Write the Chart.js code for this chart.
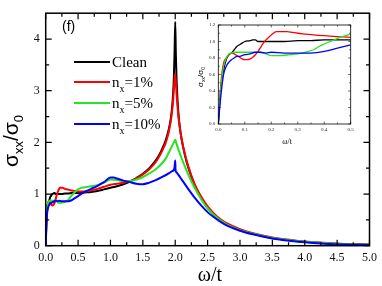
<!DOCTYPE html>
<html lang="en">
<head>
  <meta charset="UTF-8">
  <title>Optical conductivity</title>
  <script src="https://cdn.jsdelivr.net/npm/chart.js"></script>
  <style>
    body { margin: 0; background: #fff; }
    #wrap { position: relative; width: 382px; height: 286px; }
    #mainChart { position: absolute; left: 0; top: 0; }
    #insetChart { position: absolute; left: 190px; top: 15px; }
  </style>
</head>
<body>
  <div id="wrap">
    <canvas id="mainChart" width="382" height="286"></canvas>
    <canvas id="insetChart" width="180" height="135"></canvas>
  </div>

  <script>
    // ---- data (omega/t, sigma_xx/sigma_0) ----
    const cleanW = [0,0.005,0.01,0.02,0.03,0.04,0.05,0.06,0.07,0.08,0.09,0.1,0.12,0.13,0.14,0.15,0.17,0.2,0.25,0.3,0.35,0.4,0.45,0.5,0.6,0.7,0.8,0.9,1.0,1.1,1.2,1.3,1.4,1.5,1.6,1.7,1.75,1.8,1.85,1.9,1.93,1.95,1.97,1.98,1.99,2.0,2.01,2.02,2.03,2.05,2.07,2.1,2.15,2.2,2.3,2.4,2.5,2.6,2.7,2.8,3.0,3.2,3.5,3.8,4.0,4.3,4.6,5.0];
    const cleanS = [0,0.25,0.45,0.65,0.78,0.84,0.86,0.9,0.94,0.96,0.98,1.0,1.01,1.02,1.02,1.0,1.0,1.0,1.0,1.01,1.01,1.02,1.02,1.02,1.03,1.04,1.06,1.09,1.12,1.15,1.19,1.24,1.31,1.39,1.5,1.65,1.75,1.88,2.03,2.25,2.45,2.65,3.0,3.3,3.75,4.33,3.7,3.25,2.95,2.55,2.3,2.05,1.75,1.52,1.17,0.93,0.74,0.6,0.5,0.42,0.31,0.23,0.15,0.1,0.075,0.05,0.03,0.02];

    const n1W = [0,0.01,0.02,0.03,0.04,0.05,0.06,0.07,0.08,0.09,0.1,0.11,0.12,0.13,0.14,0.15,0.16,0.17,0.18,0.19,0.2,0.22,0.24,0.26,0.28,0.3,0.33,0.36,0.4,0.45,0.5,0.6,0.7,0.8,0.9,1.0,1.1,1.2,1.3,1.4,1.5,1.6,1.7,1.75,1.8,1.85,1.9,1.93,1.95,1.97,1.98,1.99,2.0,2.01,2.02,2.03,2.05,2.07,2.1,2.15,2.2,2.3,2.4,2.5,2.6,2.7,2.8,3.0,3.2,3.5,3.8,4.0,4.3,4.6,5.0];
    const n1S = [0,0.5,0.74,0.8,0.84,0.86,0.85,0.83,0.81,0.79,0.78,0.78,0.79,0.81,0.84,0.88,0.93,0.98,1.02,1.05,1.08,1.12,1.12,1.12,1.11,1.1,1.09,1.08,1.07,1.06,1.05,1.05,1.07,1.1,1.14,1.18,1.2,1.22,1.25,1.3,1.38,1.48,1.62,1.72,1.84,1.98,2.2,2.4,2.58,2.85,3.05,3.22,3.33,3.15,2.95,2.78,2.5,2.3,2.06,1.77,1.54,1.19,0.95,0.76,0.62,0.51,0.43,0.32,0.24,0.16,0.11,0.08,0.055,0.035,0.025];

    const n5W = [0,0.01,0.02,0.03,0.04,0.05,0.06,0.08,0.1,0.12,0.15,0.18,0.2,0.23,0.27,0.3,0.33,0.36,0.38,0.4,0.43,0.46,0.5,0.55,0.6,0.7,0.8,0.9,1.0,1.1,1.2,1.3,1.4,1.5,1.6,1.7,1.8,1.85,1.9,1.95,1.98,2.0,2.02,2.05,2.1,2.15,2.2,2.3,2.4,2.5,2.6,2.7,2.8,3.0,3.2,3.5,3.8,4.0,4.3,4.6,5.0];
    const n5S = [0,0.45,0.7,0.8,0.85,0.86,0.87,0.87,0.87,0.87,0.87,0.85,0.83,0.83,0.84,0.85,0.87,0.9,0.94,0.97,1.01,1.05,1.09,1.12,1.13,1.15,1.17,1.22,1.28,1.27,1.25,1.25,1.28,1.33,1.4,1.48,1.6,1.68,1.8,1.93,2.0,2.05,1.97,1.86,1.69,1.53,1.38,1.12,0.9,0.72,0.59,0.49,0.41,0.3,0.23,0.15,0.1,0.075,0.05,0.03,0.02];

    const n10W = [0,0.01,0.02,0.03,0.04,0.05,0.06,0.07,0.08,0.1,0.12,0.14,0.16,0.18,0.2,0.25,0.3,0.35,0.4,0.45,0.5,0.6,0.7,0.8,0.9,1.0,1.05,1.1,1.2,1.3,1.4,1.5,1.6,1.7,1.8,1.9,1.95,1.98,1.99,2.0,2.005,2.02,2.05,2.1,2.2,2.3,2.4,2.5,2.6,2.7,2.8,3.0,3.2,3.5,3.8,4.0,4.3,4.6,5.0];
    const n10S = [0,0.35,0.6,0.7,0.75,0.78,0.8,0.82,0.82,0.84,0.85,0.87,0.87,0.86,0.87,0.86,0.86,0.86,0.88,0.92,0.96,1.04,1.1,1.16,1.23,1.32,1.32,1.3,1.26,1.23,1.2,1.19,1.22,1.27,1.33,1.4,1.44,1.47,1.52,1.65,1.46,1.42,1.37,1.28,1.1,0.93,0.78,0.65,0.55,0.46,0.39,0.29,0.22,0.14,0.09,0.065,0.04,0.025,0.015];

    const seriesLabels = ['Clean', '1%', '5%', '10%'];
    const seriesColors = ['#000000', '#ff0000', '#22e622', '#0000ff'];

    // tick values
    const mainXMajor = [0,0.5,1,1.5,2,2.5,3,3.5,4,4.5,5];
    const mainXMinor = [0.25,0.75,1.25,1.75,2.25,2.75,3.25,3.75,4.25,4.75];
    const mainYMajor = [0,1,2,3,4];
    const mainYMinor = [0.5,1.5,2.5,3.5];
    const insetXMajor = [0,0.1,0.2,0.3,0.4,0.5];
    const insetXMinor = [0.05,0.15,0.25,0.35,0.45];
    const insetYMajor = [0,0.2,0.4,0.6,0.8,1.0,1.2];
    const insetYMinor = [0.1,0.3,0.5,0.7,0.9,1.1];

    const toPoints = (w, s) => w.map((v, i) => ({ x: v, y: s[i] }));
    const allSeries = [
      toPoints(cleanW, cleanS),
      toPoints(n1W, n1S),
      toPoints(n5W, n5S),
      toPoints(n10W, n10S)
    ];

    // build datasets, blue last in legend but drawn on top
    const makeDatasets = (width) => [3, 2, 1, 0].map(i => ({
      label: seriesLabels[i],
      data: allSeries[i],
      borderColor: seriesColors[i],
      borderWidth: width,
      pointRadius: 0,
      cubicInterpolationMode: 'monotone',
      fill: false
    }));

    // text with sub-parts: [{t, size, dy}]
    const drawParts = (ctx, parts, family, x, y, align) => {
      let total = 0;
      parts.forEach(p => { ctx.font = p.size + 'px ' + family; p.w = ctx.measureText(p.t).width; total += p.w; });
      let cx = align === 'center' ? x - total / 2 : x;
      ctx.textAlign = 'left';
      ctx.textBaseline = 'alphabetic';
      parts.forEach(p => {
        ctx.font = p.size + 'px ' + family;
        ctx.fillText(p.t, cx, y + (p.dy || 0));
        cx += p.w;
      });
    };

    // box frame with inward ticks on all four sides
    const makeFrame = (cfg) => ({
      id: 'frame',
      afterDatasetsDraw(chart) {
        const { ctx, chartArea: a, scales: { x, y } } = chart;
        ctx.save();
        ctx.strokeStyle = '#000';
        ctx.lineWidth = cfg.lw;
        ctx.strokeRect(a.left, a.top, a.right - a.left, a.bottom - a.top);
        ctx.lineWidth = cfg.tw;
        const xt = (vals, len) => vals.forEach(v => {
          const px = x.getPixelForValue(v);
          ctx.beginPath();
          ctx.moveTo(px, a.bottom); ctx.lineTo(px, a.bottom - len);
          ctx.moveTo(px, a.top); ctx.lineTo(px, a.top + len);
          ctx.stroke();
        });
        const yt = (vals, len) => vals.forEach(v => {
          const py = y.getPixelForValue(v);
          ctx.beginPath();
          ctx.moveTo(a.left, py); ctx.lineTo(a.left + len, py);
          ctx.moveTo(a.right, py); ctx.lineTo(a.right - len, py);
          ctx.stroke();
        });
        xt(cfg.xMajor, cfg.major); xt(cfg.xMinor, cfg.minor);
        yt(cfg.yMajor, cfg.major); yt(cfg.yMinor, cfg.minor);
        ctx.restore();
      }
    });

    const fixTicks = (vals) => (scale) => { scale.ticks = vals.map(v => ({ value: v })); };

    // ---- main chart ----
    const mainLabels = {
      id: 'mainLabels',
      afterDraw(chart) {
        const ctx = chart.ctx;
        ctx.save();
        ctx.fillStyle = '#000';
        // axis titles
        drawParts(ctx, [{ t: 'ω/t', size: 20 }], '"Liberation Serif", serif', 210, 281, 'center');
        ctx.translate(18, 141);
        ctx.rotate(-Math.PI / 2);
        drawParts(ctx, [
          { t: 'σ', size: 21 }, { t: 'xx', size: 13, dy: 5 },
          { t: '/σ', size: 21 }, { t: '0', size: 13, dy: 5 }
        ], '"Liberation Sans", sans-serif', 0, 0, 'center');
        ctx.setTransform(1, 0, 0, 1, 0, 0);
        // panel tag
        drawParts(ctx, [{ t: '(f)', size: 14 }], '"Liberation Sans", sans-serif', 62, 31, 'left');
        // legend
        const rows = [62, 82, 103, 124];
        seriesLabels.forEach((lab, i) => {
          ctx.strokeStyle = seriesColors[i];
          ctx.lineWidth = 2;
          ctx.beginPath();
          ctx.moveTo(74, rows[i]); ctx.lineTo(110, rows[i]);
          ctx.stroke();
          const parts = i === 0
            ? [{ t: lab, size: 15 }]
            : [{ t: 'n', size: 15 }, { t: 'x', size: 10, dy: 5 }, { t: '=' + lab, size: 15 }];
          drawParts(ctx, parts, '"Liberation Serif", serif', 112, rows[i] + 5, 'left');
        });
        ctx.restore();
      }
    };

    new Chart(document.getElementById('mainChart'), {
      type: 'line',
      data: { datasets: makeDatasets(2) },
      options: {
        responsive: false,
        animation: false,
        devicePixelRatio: 1,
        layout: { padding: { left: 0, right: 12, top: 3.3, bottom: 0 } },
        plugins: { legend: { display: false }, tooltip: { enabled: false } },
        scales: {
          x: {
            type: 'linear', min: 0, max: 5,
            afterBuildTicks: fixTicks(mainXMajor),
            afterFit: (s) => { s.height = 40.3; },
            grid: { display: false, drawTicks: false },
            border: { display: false },
            ticks: {
              padding: 5, color: '#111', autoSkip: false, maxRotation: 0,
              font: { family: '"Liberation Serif", serif', size: 12 },
              callback: (v) => Number(v).toFixed(1)
            }
          },
          y: {
            type: 'linear', min: 0, max: 4.5,
            afterBuildTicks: fixTicks(mainYMajor),
            afterFit: (s) => { s.width = 45.7; },
            grid: { display: false, drawTicks: false },
            border: { display: false },
            ticks: {
              padding: 6, color: '#111', autoSkip: false,
              font: { family: '"Liberation Serif", serif', size: 12 },
              callback: (v) => String(v)
            }
          }
        }
      },
      plugins: [makeFrame({ lw: 1.5, tw: 1.2, major: 6, minor: 3.5,
        xMajor: mainXMajor, xMinor: mainXMinor, yMajor: mainYMajor, yMinor: mainYMinor }), mainLabels]
    });

    // ---- inset chart ----
    const insetLabels = {
      id: 'insetLabels',
      afterDraw(chart) {
        const ctx = chart.ctx;
        ctx.save();
        ctx.fillStyle = '#000';
        drawParts(ctx, [{ t: 'ω/t', size: 8 }], '"Liberation Serif", serif', 97, 129, 'center');
        ctx.translate(13, 62);
        ctx.rotate(-Math.PI / 2);
        drawParts(ctx, [
          { t: 'σ', size: 8 }, { t: 'xx', size: 5, dy: 2 },
          { t: '/σ', size: 8 }, { t: '0', size: 5, dy: 2 }
        ], '"Liberation Sans", sans-serif', 0, 0, 'center');
        ctx.restore();
      }
    };

    new Chart(document.getElementById('insetChart'), {
      type: 'line',
      data: { datasets: makeDatasets(1.3) },
      options: {
        responsive: false,
        animation: false,
        devicePixelRatio: 1,
        layout: { padding: { left: 0, right: 19.3, top: 10, bottom: 0 } },
        plugins: { legend: { display: false }, tooltip: { enabled: false } },
        scales: {
          x: {
            type: 'linear', min: 0, max: 0.5,
            afterBuildTicks: fixTicks(insetXMajor),
            afterFit: (s) => { s.height = 26; },
            grid: { display: false, drawTicks: false },
            border: { display: false },
            ticks: {
              padding: 3, color: '#222', autoSkip: false, maxRotation: 0,
              font: { family: '"Liberation Serif", serif', size: 5 },
              callback: (v) => Number(v).toFixed(1)
            }
          },
          y: {
            type: 'linear', min: 0, max: 1.2,
            afterBuildTicks: fixTicks(insetYMajor),
            afterFit: (s) => { s.width = 28.3; },
            grid: { display: false, drawTicks: false },
            border: { display: false },
            ticks: {
              padding: 3, color: '#222', autoSkip: false,
              font: { family: '"Liberation Serif", serif', size: 5 },
              callback: (v) => Number(v).toFixed(1)
            }
          }
        }
      },
      plugins: [makeFrame({ lw: 0.8, tw: 0.6, major: 2.5, minor: 1.5,
        xMajor: insetXMajor, xMinor: insetXMinor, yMajor: insetYMajor, yMinor: insetYMinor }), insetLabels]
    });
  </script>
</body>
</html>
